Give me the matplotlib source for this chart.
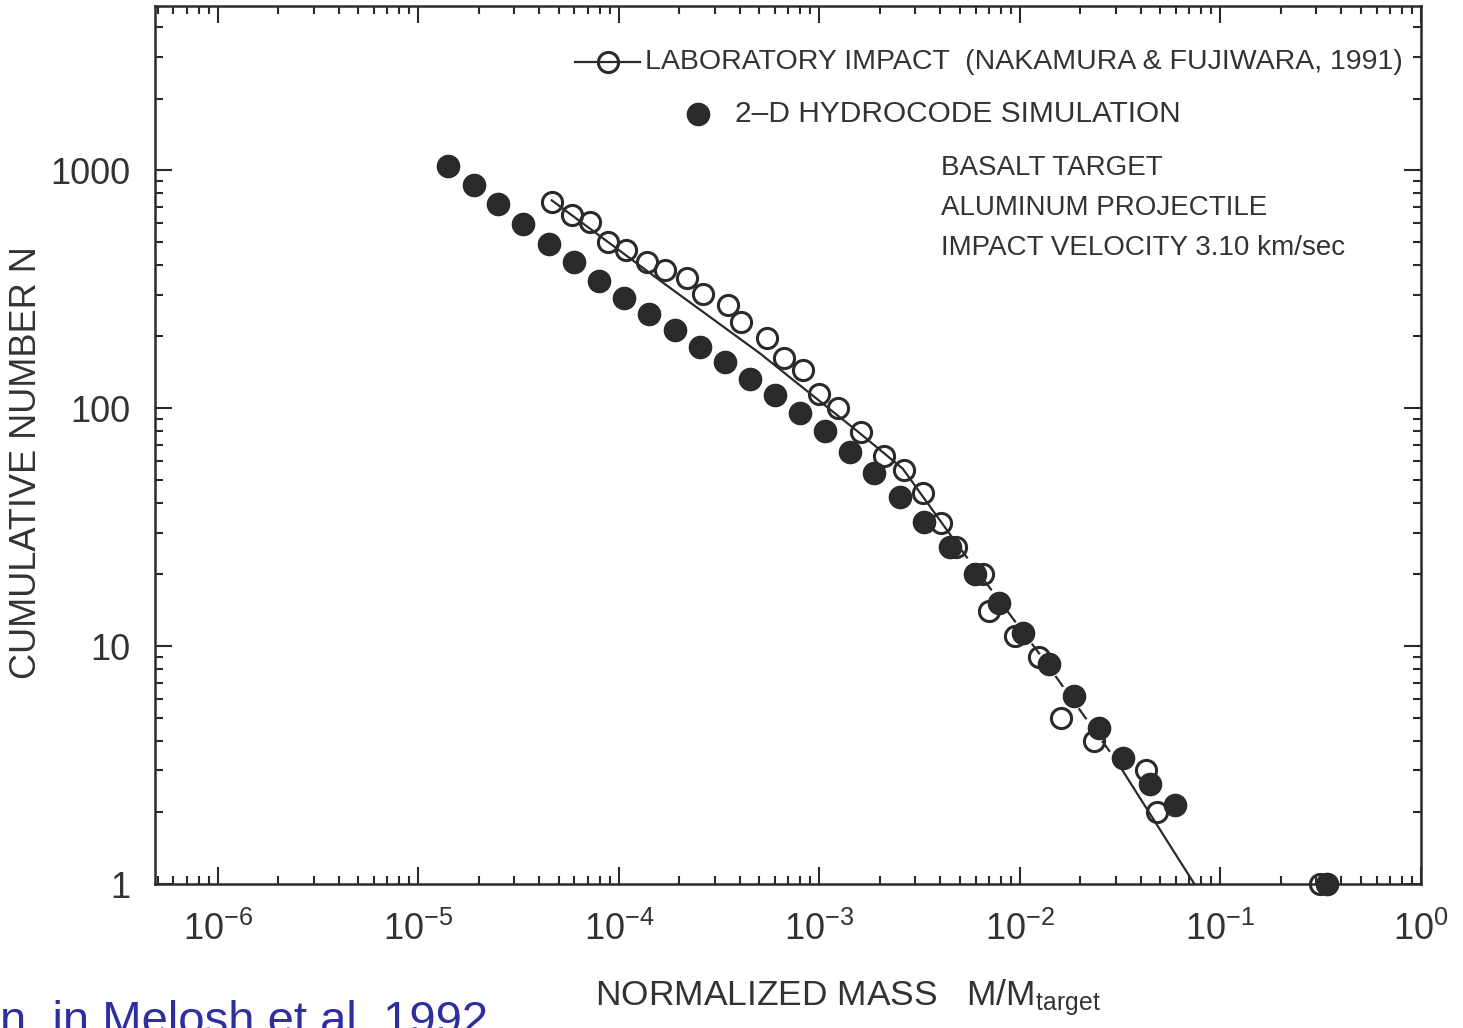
"""Cumulative fragment mass distribution: laboratory impact vs 2-D hydrocode."""

import matplotlib
matplotlib.use("Agg")
import matplotlib.pyplot as plt
from matplotlib.ticker import FixedLocator, FixedFormatter, LogLocator, NullFormatter

# laboratory impact (Nakamura & Fujiwara 1991), open circles
lab_mass = [4.62e-5, 5.82e-5, 7.14e-5, 8.79e-5, 1.09e-4, 1.38e-4, 1.69e-4, 2.18e-4,
            2.62e-4, 3.48e-4, 4.05e-4, 5.46e-4, 6.64e-4, 8.24e-4, 1.00e-3, 1.23e-3,
            1.62e-3, 2.09e-3, 2.63e-3, 3.27e-3, 4.06e-3, 4.78e-3, 6.52e-3, 6.97e-3,
            9.40e-3, 1.24e-2, 1.61e-2, 2.35e-2, 4.23e-2, 4.85e-2, 0.312]
lab_count = [733, 646, 604, 498, 460, 410, 379, 351, 303, 270, 229, 198, 163, 145,
             115, 100, 79, 63, 55, 44, 33, 26, 20, 14, 11, 9, 5, 4, 3, 2, 1]

# 2-D hydrocode simulation, filled circles
sim_mass = [1.40e-5, 1.89e-5, 2.49e-5, 3.31e-5, 4.47e-5, 5.96e-5, 7.93e-5, 1.06e-4,
            1.41e-4, 1.90e-4, 2.53e-4, 3.37e-4, 4.49e-4, 5.98e-4, 7.96e-4, 1.06e-3,
            1.42e-3, 1.88e-3, 2.51e-3, 3.34e-3, 4.46e-3, 5.94e-3, 7.82e-3, 1.04e-2,
            1.39e-2, 1.85e-2, 2.47e-2, 3.28e-2, 4.43e-2, 5.90e-2, 0.341]
sim_count = [1038, 864, 719, 592, 488, 410, 341, 289, 248, 212, 180, 156, 132, 113,
             95.8, 79.8, 65.7, 53.6, 42.5, 33.3, 26.2, 20.0, 15.1, 11.3, 8.43, 6.18,
             4.53, 3.39, 2.63, 2.15, 1]

# fit to the laboratory data (solid / dashed / solid pieces)
fit_mass = [4.62e-5, 1.60e-4, 5.04e-4, 1.53e-3, 2.60e-3, 5.00e-3, 1.25e-2, 3.03e-2, 7.41e-2]
fit_count = [747, 344, 170, 80.5, 55.7, 25.9, 9.28, 3.29, 1]

y_ticks = [1, 10, 100, 1000]
y_ticklabels = ["1", "10", "100", "1000"]
x_ticks = [1e-6, 1e-5, 1e-4, 1e-3, 1e-2, 1e-1, 1e0]
x_ticklabels = [r"$10^{-6}$", r"$10^{-5}$", r"$10^{-4}$", r"$10^{-3}$",
                r"$10^{-2}$", r"$10^{-1}$", r"$10^{0}$"]

notes = ["BASALT TARGET", "ALUMINUM PROJECTILE", "IMPACT VELOCITY 3.10 km/sec"]

INK = "#2a2a2a"
TEXT = "#333333"

plt.rcParams["font.family"] = ["Liberation Sans", "DejaVu Sans"]
plt.rcParams["mathtext.fontset"] = "custom"
plt.rcParams["mathtext.rm"] = "Liberation Sans"
plt.rcParams["mathtext.it"] = "Liberation Sans:italic"
plt.rcParams["mathtext.bf"] = "Liberation Sans:bold"

fig = plt.figure(figsize=(14.63, 10.28), dpi=100)
ax = fig.add_axes([155 / 1463, 1 - 884 / 1028, 1266 / 1463, 878 / 1028])
ax.set_xscale("log")
ax.set_yscale("log")
ax.set_xlim(10 ** -6.314, 1.0)
ax.set_ylim(1, 10 ** 3.69)

# open circles first, then the fit line, then filled circles on top
ax.plot(lab_mass, lab_count, "o", ms=14.5, mfc="none", mec=INK, mew=2.2,
        clip_on=False, zorder=3)
ax.plot(fit_mass[:6], fit_count[:6], "-", color=INK, lw=1.6, zorder=4)
ax.plot(fit_mass[5:8], fit_count[5:8], color=INK, lw=1.6, ls=(0, (6, 3)), zorder=4)
ax.plot(fit_mass[7:], fit_count[7:], "-", color=INK, lw=1.6, zorder=4)
ax.plot(sim_mass, sim_count, "o", ms=16, mfc=INK, mec=INK, clip_on=False, zorder=5)

# ticks
ax.xaxis.set_major_locator(FixedLocator(x_ticks))
ax.xaxis.set_major_formatter(FixedFormatter(x_ticklabels))
ax.xaxis.set_minor_locator(LogLocator(base=10, subs=range(2, 10), numticks=20))
ax.xaxis.set_minor_formatter(NullFormatter())
ax.yaxis.set_major_locator(FixedLocator(y_ticks))
ax.yaxis.set_major_formatter(FixedFormatter(y_ticklabels))
ax.yaxis.set_minor_locator(LogLocator(base=10, subs=range(2, 10), numticks=20))
ax.yaxis.set_minor_formatter(NullFormatter())
ax.tick_params(which="both", direction="in", top=True, right=True,
               color=INK, width=1.5)
ax.tick_params(which="major", length=12)
ax.tick_params(which="minor", length=6)
ax.tick_params(axis="x", which="major", labelsize=26, pad=20, labelcolor=TEXT)
ax.tick_params(axis="y", which="major", labelsize=26, pad=18, labelcolor=TEXT)
for s in ax.spines.values():
    s.set_color(INK)
    s.set_linewidth(1.8)

ax.set_ylabel("CUMULATIVE NUMBER N", fontsize=26, color=TEXT)
ax.yaxis.set_label_coords(-0.088, 0.48)
ax.set_xlabel(r"NORMALIZED MASS   M/M$_{\mathrm{target}}$", fontsize=25.5, color=TEXT)
ax.xaxis.set_label_coords(0.547, -0.106)

# legend, drawn by hand to keep the staggered layout
ax.plot([0.332, 0.383], [0.936, 0.936], "-", color=INK, lw=1.6,
        transform=ax.transAxes, clip_on=False)
ax.plot([0.358], [0.936], "o", ms=14.5, mfc="none", mec=INK, mew=2.2,
        transform=ax.transAxes, clip_on=False)
ax.text(0.387, 0.936, "LABORATORY IMPACT  (NAKAMURA & FUJIWARA, 1991)",
        transform=ax.transAxes, fontsize=20.5, color=TEXT,
        ha="left", va="center")
ax.plot([0.429], [0.877], "o", ms=16, mfc=INK, mec=INK, transform=ax.transAxes)
ax.text(0.458, 0.877, "2–D HYDROCODE SIMULATION",
        transform=ax.transAxes, fontsize=21.5, color=TEXT,
        ha="left", va="center")

for i, line in enumerate(notes):
    ax.text(0.621, 0.816 - i * 0.0456, line, transform=ax.transAxes,
            fontsize=20, color=TEXT, ha="left", va="center")

# caption fragment cut by the lower edge
fig.text(0.0, 1 - 1034 / 1028, "n, in Melosh et al. 1992", color="#2e2ea0",
         fontsize=34, ha="left", va="baseline")

fig.savefig("out.png", dpi=100)
